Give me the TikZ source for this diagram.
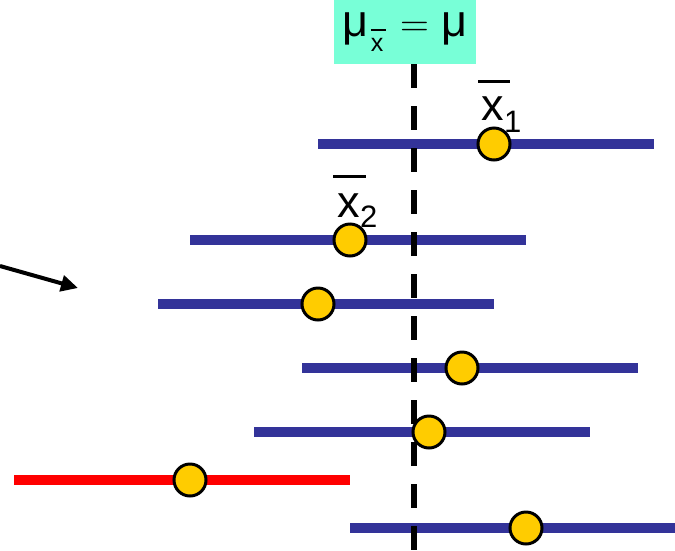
\documentclass[tikz,border=0pt]{standalone}
\usepackage{fontspec}
\setmainfont{Liberation Sans}
\newfontfamily\eqfont{Latin Modern Roman}
\usetikzlibrary{arrows.meta}

\definecolor{barblue}{RGB}{51,51,153}
\definecolor{dotyellow}{RGB}{255,204,0}
\definecolor{labelteal}{RGB}{120,255,215}

% an "x" with a bar over it: #1 = raise of the bar, #2 = bar width, #3 = left shift, #4 = bar thickness
\newcommand{\barredx}[4]{\makebox[0pt][l]{\hspace*{-#3}\raisebox{#1}{\rule{#2}{#4}}}x}

\begin{document}
\begin{tikzpicture}[x=1pt,y=-1pt,
  interval/.style={line width=10pt, draw=barblue},
  missed/.style={line width=10pt, draw=red},
  sampmean/.style={circle, draw=black, line width=3pt, fill=dotyellow,
                   minimum size=32pt, inner sep=0pt},
  axisline/.style={line width=6pt, draw=black, dash pattern=on 24pt off 18pt},
  bigtext/.style={inner sep=0pt, font=\fontsize{45}{45}\selectfont},
  subtext/.style={inner sep=0pt, font=\fontsize{31}{31}\selectfont},
]
\useasboundingbox (0,0) rectangle (675,550);

% label of the centre line
\node[fill=labelteal, minimum width=142pt, minimum height=64pt, inner sep=0pt,
      font=\fontsize{45}{45}\selectfont] (mubox) at (405,32)
  {\raisebox{-3pt}{μ\hspace{2pt}\raisebox{-15pt}{\fontsize{25}{25}\selectfont\barredx{20pt}{15pt}{0pt}{2.5pt}}\hspace{17pt}{\eqfont\fontsize{40}{40}\selectfont =}\hspace{12pt}μ}};

% end points of the intervals
\coordinate (l1) at (318,144); \coordinate (r1) at (654,144);
\coordinate (l2) at (190,240); \coordinate (r2) at (526,240);
\coordinate (l3) at (158,304); \coordinate (r3) at (494,304);
\coordinate (l4) at (302,368); \coordinate (r4) at (638,368);
\coordinate (l5) at (254,432); \coordinate (r5) at (590,432);
\coordinate (l6) at (14,480);  \coordinate (r6) at (350,480);
\coordinate (l7) at (350,528); \coordinate (r7) at (686,528);

\draw[interval] (l1) -- (r1);
\draw[interval] (l2) -- (r2);
\draw[interval] (l3) -- (r3);
\draw[interval] (l4) -- (r4);
\draw[interval] (l5) -- (r5);
\draw[missed]   (l6) -- (r6);
\draw[interval] (l7) -- (r7);

% dashed line through the population mean
\coordinate (axisend) at (414,550);
\draw[axisline] (mubox.south -| axisend) -- (axisend);

% sample means
\node[sampmean] (m1) at (494,144) {};
\node[sampmean] (m2) at (350,240) {};
\node[sampmean] (m3) at (318,304) {};
\node[sampmean] (m4) at (462,368) {};
\node[sampmean] (m5) at (429,432) {};
\node[sampmean] (m6) at (190,480) {};
\node[sampmean] (m7) at (526,528) {};

% labels of the first two sample means
\node[bigtext, anchor=base west] (xb1) at (481,120) {\barredx{37.5pt}{32pt}{3pt}{3pt}};
\node[subtext, anchor=base west] (s1) at (xb1.base east) [yshift=-12pt] {1};
\node[bigtext, anchor=base west] (xb2) at (337,217) {\barredx{39.5pt}{33pt}{4pt}{3pt}};
\node[subtext, anchor=base west] (s2) at (xb2.base east) [yshift=-10pt] {2};

% pointer from the left
\coordinate (arrowtail) at (0,266);
\coordinate (arrowtip) at (78,288);
\draw[line width=4pt, -{Triangle[length=17pt,width=16pt]}] (arrowtail) -- (arrowtip);
\end{tikzpicture}
\end{document}
